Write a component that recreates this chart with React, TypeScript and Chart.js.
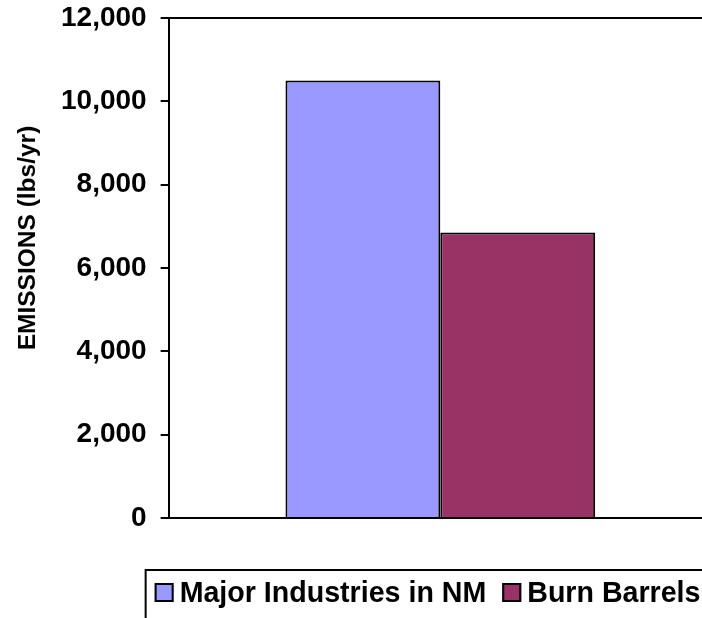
import React, { useEffect, useRef } from 'react';
import { Chart, registerables } from 'chart.js';

Chart.register(...registerables);

const categories = [''];
const seriesLabels = ['Major Industries in NM', 'Burn Barrels'];
const majorIndustries = [10500];
const burnBarrels = [6850];
const seriesColors = ['#9999FF', '#993366'];
const yAxisTitle = 'EMISSIONS (lbs/yr)';
const yMin = 0;
const yMax = 12000;
const yStep = 2000;

const FONT = '"Liberation Sans", Arial, Helvetica, sans-serif';
const CW = 730;
const CH = 618;

const yTitlePlugin = {
  id: 'yTitlePlugin',
  afterDraw(chart: any) {
    const { ctx, chartArea } = chart;
    ctx.save();
    ctx.font = `bold 24.5px ${FONT}`;
    ctx.fillStyle = '#000';
    ctx.textAlign = 'center';
    ctx.textBaseline = 'middle';
    ctx.translate(chartArea.left - 140, chartArea.top + 220);
    ctx.rotate(-Math.PI / 2);
    ctx.fillText(yAxisTitle, 0, 0);
    ctx.restore();
  },
};

const boxLegendPlugin = {
  id: 'boxLegendPlugin',
  afterDraw(chart: any) {
    const { ctx, chartArea } = chart;
    const left = chartArea.left - 23;
    const top = chartArea.bottom + 52;
    ctx.save();
    ctx.lineWidth = 2;
    ctx.strokeStyle = '#000';
    ctx.strokeRect(left, top, chart.width - left + 20, 80);
    ctx.font = `bold 28.6px ${FONT}`;
    const box = 19;
    const boxTop = top + 13;
    let x = left + 9;
    chart.data.datasets.forEach((ds: any) => {
      ctx.fillStyle = ds.backgroundColor;
      ctx.fillRect(x, boxTop, box, box);
      ctx.lineWidth = 2;
      ctx.strokeStyle = '#000';
      ctx.strokeRect(x + 1, boxTop + 1, box - 2, box - 2);
      x += box + 6;
      ctx.fillStyle = '#000';
      ctx.textAlign = 'left';
      ctx.textBaseline = 'alphabetic';
      ctx.fillText(ds.label, x, boxTop + box);
      x += ctx.measureText(ds.label).width + 16;
    });
    ctx.restore();
  },
};

export default function App() {
  const canvasRef = useRef<HTMLCanvasElement | null>(null);

  useEffect(() => {
    if (!canvasRef.current) return;
    const chart = new Chart(canvasRef.current, {
      type: 'bar',
      data: {
        labels: categories,
        datasets: [
          {
            label: seriesLabels[0],
            data: majorIndustries,
            backgroundColor: seriesColors[0],
            borderColor: '#000',
            borderWidth: 2,
            categoryPercentage: 0.57,
            barPercentage: 1,
          },
          {
            label: seriesLabels[1],
            data: burnBarrels,
            backgroundColor: seriesColors[1],
            borderColor: '#000',
            borderWidth: 2,
            categoryPercentage: 0.57,
            barPercentage: 1,
          },
        ],
      },
      options: {
        responsive: false,
        devicePixelRatio: 1,
        animation: false,
        layout: { padding: { left: 47, top: 18, right: 18, bottom: 92 } },
        plugins: {
          legend: { display: false },
          tooltip: { enabled: false },
          title: { display: false },
        },
        scales: {
          x: {
            type: 'category',
            grid: { display: false },
            border: { display: true, color: '#000', width: 2 },
            ticks: { display: false },
          },
          y: {
            min: yMin,
            max: yMax,
            afterFit: (scale: any) => {
              scale.paddingTop = 0;
            },
            ticks: {
              stepSize: yStep,
              color: '#000',
              padding: 14,
              font: { family: FONT, size: 28, weight: 'bold' },
              callback: (v: any) => Number(v).toLocaleString('en-US'),
            },
            grid: {
              color: (c: any) => (c.tick && c.tick.value === yMax ? '#000' : 'rgba(0,0,0,0)'),
              lineWidth: 2,
              tickColor: '#000',
              tickLength: 8,
              tickWidth: 2,
              drawOnChartArea: true,
            },
            border: { display: true, color: '#000', width: 2 },
          },
        },
      },
      plugins: [yTitlePlugin, boxLegendPlugin],
    });
    return () => chart.destroy();
  }, []);

  return (
    <div
      style={{
        position: 'fixed',
        left: 0,
        top: 0,
        width: 702,
        height: 618,
        overflow: 'hidden',
        background: '#fff',
      }}
    >
      <canvas ref={canvasRef} width={CW} height={CH} style={{ display: 'block', width: CW, height: CH }} />
    </div>
  );
}
